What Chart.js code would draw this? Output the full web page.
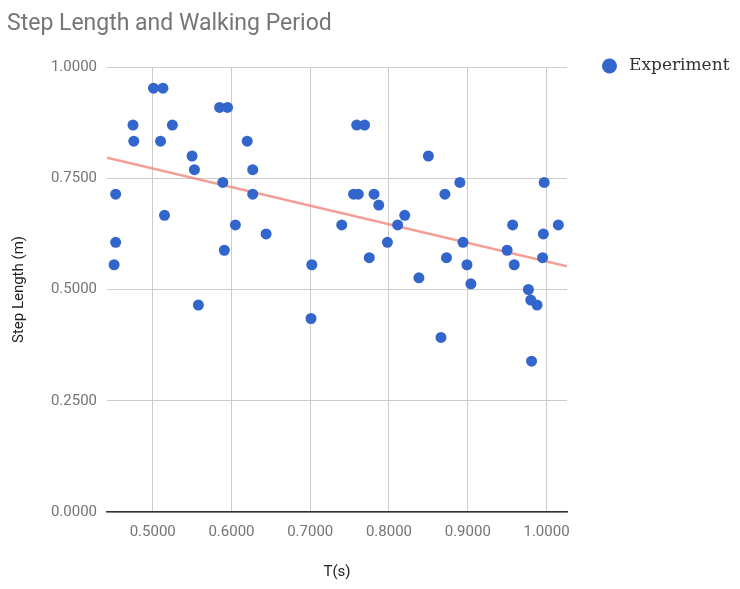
<!DOCTYPE html>
<html>
<head>
<meta charset="utf-8">
<title>Step Length and Walking Period</title>
<script src="https://cdn.jsdelivr.net/npm/chart.js@4.4.1/dist/chart.umd.min.js"></script>
<style>
  html, body { margin:0; padding:0; background:#fff; }
  #wrap { width:740px; height:589px; position:relative; }
</style>
</head>
<body>
<div id="wrap"><canvas id="chart" width="740" height="589"></canvas></div>
<script>
// ── DATA ──────────────────────────────────────────────────────────
const TITLE = 'Step Length and Walking Period';
const SERIES_LABEL = 'Experiment';

// walking period T (s)
const periodT = [
  0.501, 0.513, 0.585, 0.595, 0.475, 0.525, 0.476, 0.510, 0.620, 0.550,
  0.553, 0.627, 0.589, 0.453, 0.627, 0.515, 0.605, 0.644, 0.453, 0.591,
  0.451, 0.702, 0.558, 0.701,
  0.759, 0.769, 0.850, 0.890, 0.997, 0.755, 0.761, 0.781, 0.871, 0.787,
  0.820, 0.740, 0.811, 0.957, 1.015, 0.996, 0.798, 0.894, 0.950, 0.775,
  0.873, 0.995, 0.899, 0.959, 0.838, 0.904, 0.977, 0.980, 0.988, 0.866,
  0.981
];

// step length (m)
const stepLength = [
  0.9524, 0.9524, 0.9091, 0.9091, 0.8696, 0.8696, 0.8333, 0.8333, 0.8333, 0.8000,
  0.7692, 0.7692, 0.7407, 0.7143, 0.7143, 0.6667, 0.6452, 0.6250, 0.6061, 0.5882,
  0.5556, 0.5556, 0.4651, 0.4348,
  0.8696, 0.8696, 0.8000, 0.7407, 0.7407, 0.7143, 0.7143, 0.7143, 0.7143, 0.6897,
  0.6667, 0.6452, 0.6452, 0.6452, 0.6452, 0.6250, 0.6061, 0.6061, 0.5882, 0.5714,
  0.5714, 0.5714, 0.5556, 0.5556, 0.5263, 0.5128, 0.5000, 0.4762, 0.4651, 0.3922,
  0.3390
];

// trend line ends (read at the plot edges)
const trendT = [0.442, 1.026];
const trendLen = [0.796, 0.552];

const xTicks = [0.5, 0.6, 0.7, 0.8, 0.9, 1.0];
const yTicks = [0, 0.25, 0.5, 0.75, 1.0];
const X_MIN = 0.442, X_MAX = 1.026;
const Y_MIN = 0, Y_MAX = 1;

// ── COLOURS / FONTS ──────────────────────────────────────────────
const BLUE = '#3366cc';
const TREND = 'rgba(240,120,110,0.72)';
const FONT = 'Roboto, "Open Sans", sans-serif';

// ── TITLE + LEGEND (drawn after chart) ───────────────────────────
const decorPlugin = {
  id: 'decor',
  afterDraw(chart) {
    const ctx = chart.ctx;
    ctx.save();
    ctx.fillStyle = '#757575';
    ctx.font = '23px ' + FONT;
    ctx.textAlign = 'left';
    ctx.textBaseline = 'alphabetic';
    ctx.fillText(TITLE, 7, 30);

    // legend
    ctx.beginPath();
    ctx.arc(609.5, 66, 7.5, 0, Math.PI * 2);
    ctx.fillStyle = BLUE;
    ctx.fill();
    ctx.fillStyle = '#333';
    ctx.font = '17px "DejaVu Serif", "Liberation Serif", serif';
    ctx.fillText(SERIES_LABEL, 629, 70);
    ctx.restore();
  }
};

// ── BUILD ────────────────────────────────────────────────────────
const points = periodT.map((t, i) => ({ x: t, y: stepLength[i] }));
const trend = trendT.map((t, i) => ({ x: t, y: trendLen[i] }));

new Chart(document.getElementById('chart'), {
  type: 'scatter',
  data: {
    datasets: [
      {
        label: 'Trend',
        type: 'line',
        data: trend,
        borderColor: TREND,
        borderWidth: 2.5,
        pointRadius: 0,
        fill: false,
        order: 2
      },
      {
        label: SERIES_LABEL,
        data: points,
        backgroundColor: BLUE,
        borderWidth: 0,
        pointRadius: 5.5,
        pointHoverRadius: 5.5,
        order: 1
      }
    ]
  },
  options: {
    responsive: false,
    animation: false,
    layout: { padding: { top: 67, right: 173, left: 0, bottom: 0 }, autoPadding: false },
    plugins: {
      legend: { display: false },
      title: { display: false },
      tooltip: { enabled: false }
    },
    scales: {
      x: {
        type: 'linear',
        min: X_MIN, max: X_MAX,
        afterBuildTicks: s => { s.ticks = xTicks.map(v => ({ value: v })); },
        afterFit: s => { s.height = 77; },
        grid: { color: '#cccccc', drawTicks: false },
        border: { display: true, color: '#333', width: 1.5 },
        ticks: {
          padding: 11,
          color: '#757575',
          font: { family: FONT, size: 15 },
          callback: v => Number(v).toFixed(4)
        },
        title: {
          display: true,
          text: 'T(s)',
          color: '#222',
          font: { family: FONT, size: 15 },
          padding: { top: 0, bottom: 8 }
        }
      },
      y: {
        min: Y_MIN, max: Y_MAX,
        afterBuildTicks: s => { s.ticks = yTicks.map(v => ({ value: v })); },
        afterFit: s => { s.width = 107; },
        grid: { color: '#cccccc', drawTicks: false },
        border: { display: false },
        ticks: {
          padding: 10,
          color: '#757575',
          font: { family: FONT, size: 15 },
          callback: v => Number(v).toFixed(4)
        },
        title: {
          display: true,
          text: 'Step Length (m)',
          color: '#222',
          font: { family: FONT, size: 15 },
          padding: { top: 10, bottom: 0 }
        }
      }
    }
  },
  plugins: [decorPlugin]
});
</script>
</body>
</html>
